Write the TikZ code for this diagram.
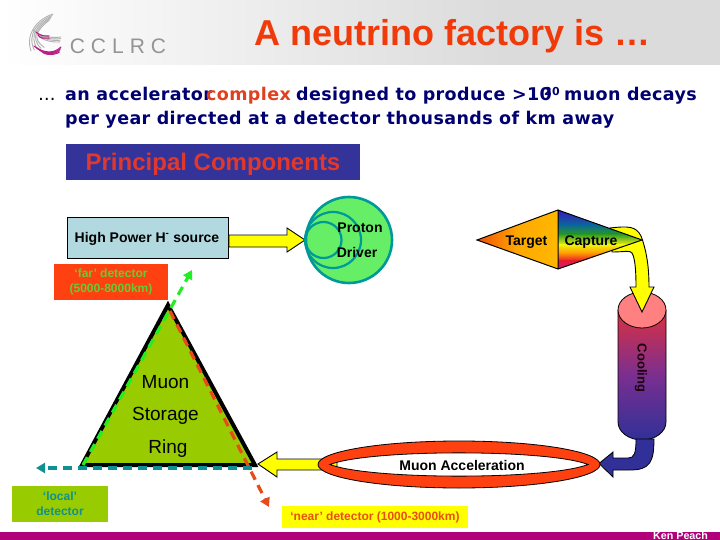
\documentclass[tikz,border=0pt]{standalone}
\usepackage{fontspec}
\setmainfont{Liberation Sans}
\newfontfamily\subfont[LetterSpace=2.2]{DejaVu Sans}
\usetikzlibrary{shapes.geometric,arrows.meta}
\definecolor{titlered}{HTML}{F03A0A}
\definecolor{navytext}{HTML}{000070}
\definecolor{compred}{HTML}{E04020}
\definecolor{pcblue}{HTML}{333399}
\definecolor{pcred}{HTML}{E0392B}
\definecolor{srcblue}{HTML}{B2D8E0}
\definecolor{pgreen}{HTML}{66EE66}
\definecolor{pteal}{HTML}{009999}
\definecolor{arrowy}{HTML}{FFFF00}
\definecolor{ringgreen}{HTML}{99CC00}
\definecolor{farred}{HTML}{FF4010}
\definecolor{fargreen}{HTML}{66CC33}
\definecolor{dashgreen}{HTML}{22EE22}
\definecolor{dashteal}{HTML}{109090}
\definecolor{dashred}{HTML}{E84A1A}
\definecolor{nearorange}{HTML}{E85010}
\definecolor{barmag}{HTML}{B0007A}
\definecolor{cylred}{HTML}{DC3040}
\definecolor{cylpurple}{HTML}{7A2F90}
\definecolor{cylblue}{HTML}{303098}
\definecolor{cyltop}{HTML}{FF8080}
\definecolor{logogray}{HTML}{B0B0B0}
\definecolor{logomag}{HTML}{B82088}
\definecolor{tgtleft}{HTML}{F05008}
\definecolor{tgtmid}{HTML}{FFA800}
\definecolor{tgtright}{HTML}{FFB800}
\definecolor{rba}{HTML}{3319BF}
\definecolor{rbb}{HTML}{0D6699}
\definecolor{rbc}{HTML}{269926}
\definecolor{rbd}{HTML}{F2F20D}
\definecolor{rbe}{HTML}{FF9900}
\definecolor{rbf}{HTML}{E61A33}
\definecolor{rbg}{HTML}{CC1A8C}
\tikzset{
 lbl/.style={font=\bfseries\fontsize{14}{14}\selectfont,text=black,inner sep=0pt},
 ringlbl/.style={font=\fontsize{19}{19}\selectfont,text=black,inner sep=0pt},
 subl/.style={font=\subfont\bfseries\fontsize{17.5}{17.5}\selectfont,inner sep=0pt,anchor=base west,text=navytext},
 detbox/.style={minimum height=0pt,inner sep=0pt,font=\bfseries\fontsize{12}{15}\selectfont,align=center},
 blockarrow/.style={fill=arrowy,draw=black,line width=.9pt,line join=miter},
 dashline/.style={line width=3.2pt,dash pattern=on 9pt off 6pt},
 logoline/.style={line width=.9pt,line cap=round}
}
\begin{document}
\begin{tikzpicture}[x=1pt,y=-1pt]
\useasboundingbox (0,0) rectangle (720,540);
\clip (0,0) rectangle (720,540);
% header
\shade[left color=white,right color=black!14,middle color=black!7] (0,0) rectangle (500,65);
\fill[black!14] (499,0) rectangle (720,65);
% logo
\foreach \d in {0,3,6,9,12}{
 \draw[logoline,logogray] (53-\d*.3,14+\d*.5) .. controls (38-\d*.2,19+\d) and (25+\d*.6,33+\d*.5) .. (31+\d*1.1,51-\d*.3);
}
\foreach \d in {0,4,8,12}{
 \draw[logoline,logogray] (33+\d*.5,30+\d*.5) .. controls (42,38+\d*.2) and (54,38+\d*.4) .. (61-\d*.1,37+\d*.4);
}
\foreach \d in {0,4}{
 \draw[logoline,logomag,line width=1.1pt] (36+\d*.6,32+\d*.9) .. controls (40,36+\d*.6) and (44,36+\d*.6) .. (49,36+\d*.5);
}
\foreach \d in {0,3,6,9}{
 \draw[logoline,logomag,line width=1.1pt] (34+\d*.8,46+\d*.5) .. controls (40+\d*.3,51+\d*.4) and (52,56) .. (61-\d*.2,47+\d*.6);
}
\node[inner sep=0pt,text=black!42,font=\fontsize{21}{21}\selectfont] (logotext) at (118,46) {C\hspace{6pt}C\hspace{6pt}L\hspace{6pt}R\hspace{6pt}C};
% title
\node[inner sep=0pt,text=titlered,font=\bfseries\fontsize{36}{36}\selectfont] (title) at (452.5,36) {A neutrino factory is …};
% subtitle
\node[subl,text=black,font=\subfont\fontsize{17.5}{17.5}\selectfont] (dots) at (38,101) {…};
\node[subl] (s1) at (65,101) {an accelerator};
\node[subl,text=compred] (s2) at (206,101) {complex};
\node[subl] (s3) at (296,101) {designed to produce >10};
\node[subl,font=\subfont\bfseries\fontsize{11}{11}\selectfont] (s4) at (544,96) {20};
\node[subl] (s5) at (564,101) {muon decays};
\node[subl] (s6) at (65,125) {per year directed at a detector thousands of km away};
% principal components
\node[fill=pcblue,minimum width=294pt,minimum height=36pt,inner sep=0pt,anchor=north west] (pc) at (66,144) {};
\node[inner sep=0pt,text=pcred,font=\bfseries\fontsize{24}{24}\selectfont] (pct) at (213,164) {Principal Components};
% source
\node[fill=srcblue,draw=black,line width=.8pt,minimum width=161pt,minimum height=41pt,inner sep=0pt,anchor=north west] (src) at (67,217) {};
\node[lbl] (srct) at (147,238.5) {High Power H\textsuperscript{-} source};
% arrow source -> proton
\filldraw[blockarrow] (src.east |- 0,235) -- (287,235) -- (287,228) -- (305,240) -- (287,252) -- (287,247) -- (src.east |- 0,247) -- cycle;
% proton driver
\node[circle,draw=pteal,fill=pgreen,line width=2.6pt,minimum size=86pt,inner sep=0pt] (pd) at (349,240) {};
\node[circle,draw=pteal,line width=2.2pt,minimum size=56pt,inner sep=0pt] (pd2) at (333,240) {};
\node[circle,draw=pteal,line width=2.2pt,minimum size=36pt,inner sep=0pt] (pd3) at (323.5,240) {};
\node[lbl] (pdt1) at (360,228) {Proton};
\node[lbl] (pdt2) at (357,252.5) {Driver};
% cylinder
\coordinate (cyl1) at (618,310);
\coordinate (cyl2) at (666,310);
\coordinate (cyl3) at (666,422);
\shade[top color=cylred,bottom color=cylblue,middle color=cylpurple] (cyl1) -- (cyl2) -- (cyl3) arc[start angle=0,end angle=180,x radius=24,y radius=18] -- cycle;
\draw[black,line width=.8pt] (cyl2) -- (cyl3) arc[start angle=0,end angle=180,x radius=24,y radius=18] -- (cyl1);
\filldraw[fill=cyltop,draw=black,line width=.8pt] (642,310) ellipse[x radius=24,y radius=18];
\node[text=black!85!purple,inner sep=0pt,font=\bfseries\fontsize{13}{13}\selectfont,rotate=-90] (cool) at (641,368) {Cooling};
% target/capture
\coordinate (tl) at (477,240);
\coordinate (tt) at (558,210);
\coordinate (tb) at (558,269);
\coordinate (tr) at (642,240);
% curved yellow arrow
\filldraw[blockarrow] (610,228) .. controls (628,226) and (636,226) .. (641,236) .. controls (647,252) and (649,268) .. (649,287) -- (654,287) -- (642,312) -- (630,287) -- (636,287) .. controls (636,270) and (635,258) .. (632,253) .. controls (630,250) and (625,252) .. (612,252) -- cycle;
\shade[left color=tgtleft,right color=tgtright,middle color=tgtmid] (tl) -- (tt) -- (tb) -- cycle;
\begin{scope}
\clip (tt) -- (tr) -- (tb) -- cycle;
\shade[top color=rba,bottom color=rbb] (558,210) rectangle (642,225);
\shade[top color=rbb,bottom color=rbc] (558,224.8) rectangle (642,234);
\shade[top color=rbc,bottom color=rbd] (558,233.8) rectangle (642,245);
\shade[top color=rbd,bottom color=rbe] (558,244.8) rectangle (642,253);
\shade[top color=rbe,bottom color=rbf] (558,252.8) rectangle (642,261);
\shade[top color=rbf,bottom color=rbg] (558,260.8) rectangle (642,269);
\end{scope}
\draw[black,line width=1pt,line join=miter] (tl) -- (tt) -- (tr) -- (tb) -- cycle (tt) -- (tb);
\node[lbl] (tar) at (526.5,242) {Target};
\node[lbl] (cap) at (591,242) {Capture};
% blue arrow
\filldraw[fill=cylblue,draw=black,line width=.8pt] (654,439) .. controls (654,462) and (650,470) .. (630,470) -- (613,470) -- (613,477) -- (599,463.5) -- (613,452) -- (613,458) -- (628,458) .. controls (634,458) and (636,454) .. (636,439) -- cycle;
% muon acceleration
\fill[white] (330,464.5) .. controls (370,449) and (548,449) .. (588,464.5) .. controls (548,480) and (370,480) .. (330,464.5) -- cycle;
% yellow arrow to ring
\filldraw[blockarrow] (337,459) -- (277,459) -- (277,452) -- (258,464) -- (277,477) -- (277,470) -- (337,470) -- cycle;
\filldraw[fill=farred,draw=black,line width=.8pt,even odd rule] (459,464.5) ellipse[x radius=141,y radius=23.5] (330,464.5) .. controls (370,449) and (548,449) .. (588,464.5) .. controls (548,480) and (370,480) .. (330,464.5) -- cycle;
\node[lbl] (acc) at (462,465) {Muon Acceleration};
% triangle
\coordinate (ta) at (168,305);
\coordinate (tbl) at (82,465);
\coordinate (tbr) at (255,465);
\filldraw[fill=ringgreen,draw=black,line width=4pt,line join=miter] (ta) -- (tbr) -- (tbl) -- cycle;
\node[ringlbl] (r1) at (165.5,382.5) {Muon};
\node[ringlbl] (r2) at (165.5,416) {Storage};
\node[ringlbl] (r3) at (168,449) {Ring};
% dashed beams
\coordinate (gs) at (83,465);
\coordinate (ge) at (192,270);
\coordinate (rs) at (170,311);
\coordinate (re) at (269,507);
\coordinate (ts) at (252,468);
\coordinate (te) at (36,468);
\draw[dashline,dashgreen,-{Triangle[length=9pt,width=10pt]}] (gs) -- (ge);
\draw[dashline,dashred,-{Triangle[length=9pt,width=10pt]}] (rs) -- (re);
\draw[dashline,dashteal,-{Triangle[length=9pt,width=10pt]}] (ts) -- (te);
% detector boxes
\node[detbox,fill=farred,text=fargreen,minimum width=114pt,minimum height=36pt] (far) at (111,282) {‘far’ detector\\(5000-8000km)};
\node[detbox,fill=ringgreen,text=dashteal,minimum width=96pt,minimum height=36pt] (loc) at (60,504) {‘local’\\detector};
\node[detbox,fill=arrowy,text=nearorange,minimum width=186pt,minimum height=22pt] (near) at (375,517) {‘near’ detector (1000-3000km)};
% bottom bar
\fill[barmag] (0,532) rectangle (720,540);
\node[inner sep=0pt,text=white,font=\bfseries\fontsize{10.7}{11}\selectfont,anchor=base west] (ken) at (653,539) {Ken Peach};
\end{tikzpicture}
\end{document}
